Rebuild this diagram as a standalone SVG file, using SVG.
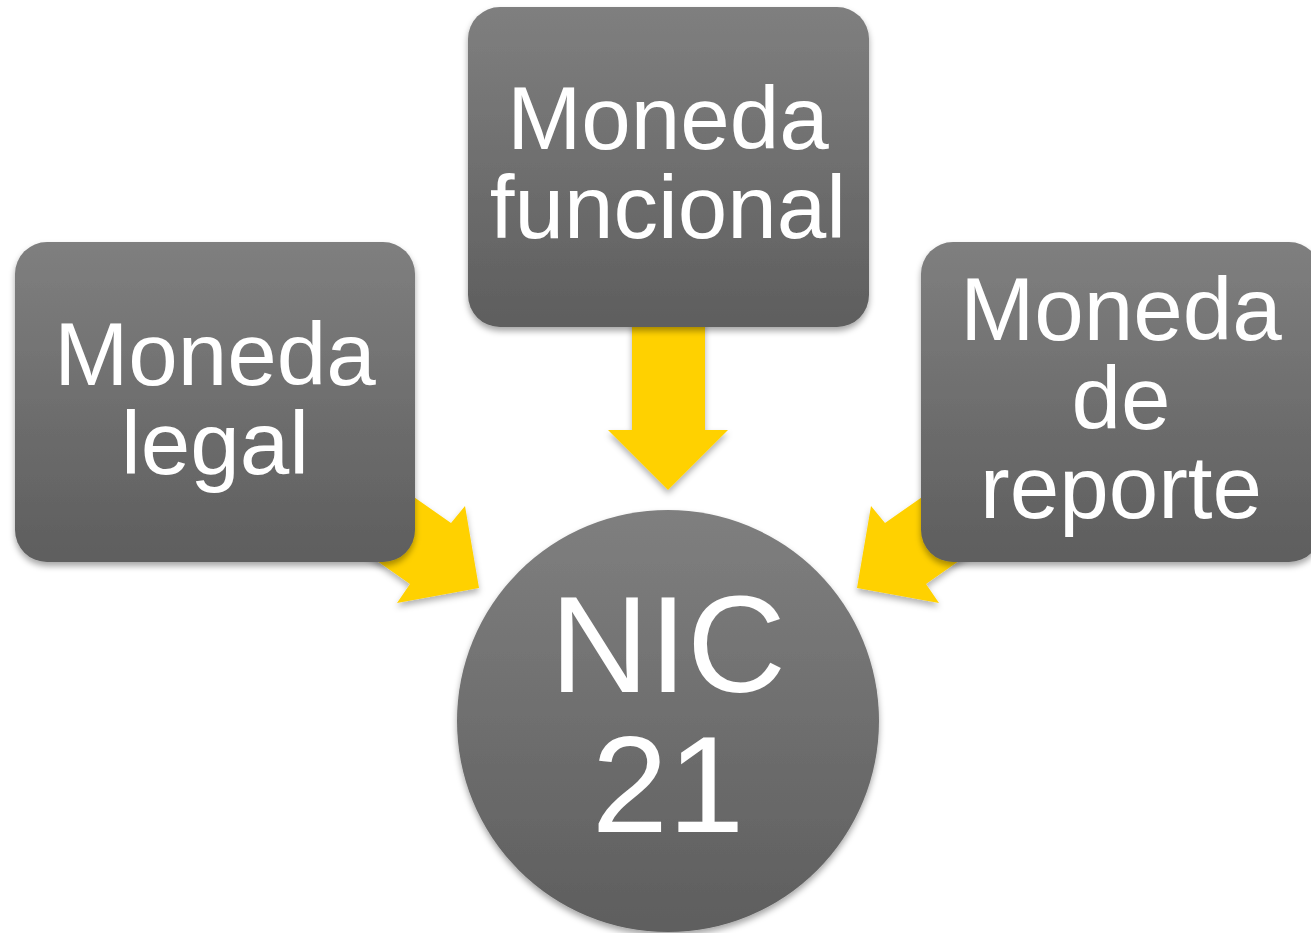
<svg xmlns="http://www.w3.org/2000/svg" width="1311" height="933" viewBox="0 0 1311 933">
<defs>
<linearGradient id="g" x1="0" y1="0" x2="0" y2="1">
<stop offset="0" stop-color="#7f7f7f"/>
<stop offset="1" stop-color="#5e5e5e"/>
</linearGradient>
<filter id="sh" x="-10%" y="-10%" width="120%" height="125%">
<feDropShadow dx="0" dy="4" stdDeviation="3" flood-color="#000" flood-opacity="0.35"/>
</filter>
<filter id="sha" x="-20%" y="-20%" width="140%" height="140%">
<feDropShadow dx="0" dy="4" stdDeviation="3" flood-color="#000" flood-opacity="0.3"/>
</filter>
</defs>
<style>
.box{fill:url(#g);filter:url(#sh)}
.arr{fill:#ffd100;filter:url(#sha)}
.t{font-family:"Liberation Sans",Arial,sans-serif;fill:#fff;text-anchor:middle;font-size:89px}
.tc{font-family:"Liberation Sans",Arial,sans-serif;fill:#fff;text-anchor:middle;font-size:137px}
</style>
<g id="connectors">
<polygon class="arr" points="632,300 705,300 705,430 728,430 668,490 608,430 632,430"/>
<polygon class="arr" points="479,588 397,603 410,584 250,472 291,411 451,523 465,506"/>
<polygon class="arr" points="857,588 939,603 926,584 1086,472 1045,411 885,523 871,506"/>
</g>
<g id="node-funcional">
<rect class="box" x="468" y="7" width="401" height="320" rx="32"/>
<text class="t" x="668" y="149">Moneda</text>
<text class="t" x="668" y="238">funcional</text>
</g>
<g id="node-legal">
<rect class="box" x="15" y="242" width="400" height="320" rx="32"/>
<text class="t" x="215" y="385">Moneda</text>
<text class="t" x="215" y="474">legal</text>
</g>
<g id="node-reporte">
<rect class="box" x="921" y="242" width="400" height="320" rx="32"/>
<text class="t" x="1121" y="340">Moneda</text>
<text class="t" x="1121" y="429">de</text>
<text class="t" x="1121" y="518">reporte</text>
</g>
<g id="node-nic21">
<circle class="box" cx="668" cy="721" r="211"/>
<text class="tc" x="668" y="692">NIC</text>
<text class="tc" x="668" y="832">21</text>
</g>
</svg>
